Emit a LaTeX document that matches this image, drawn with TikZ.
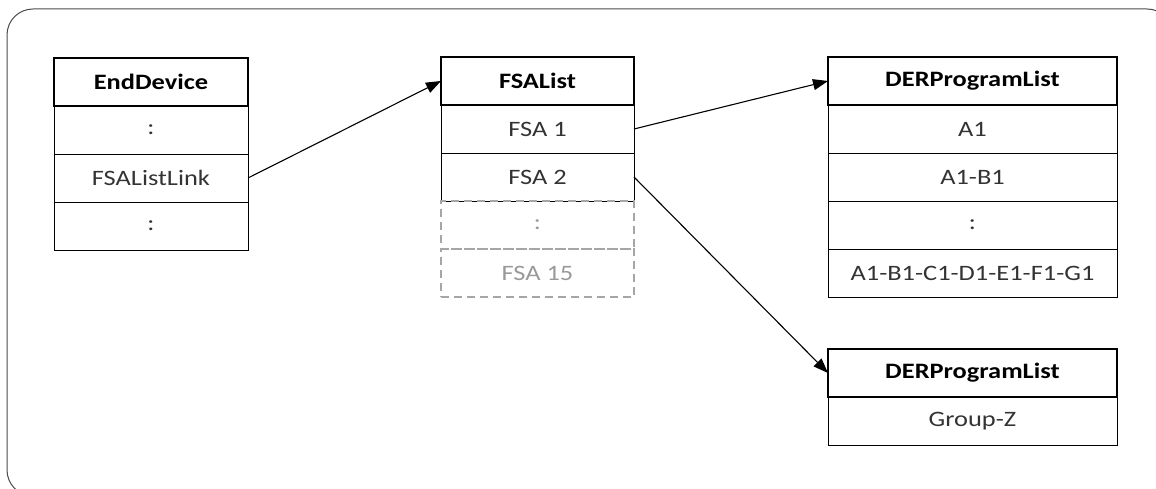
\documentclass[tikz,border=0pt]{standalone}
\usepackage{fontspec}
\setmainfont{Carlito}[FakeStretch=1.2]
\usepackage{xcolor}
\usepackage{tikz}
\usetikzlibrary{positioning,arrows.meta}

\begin{document}
\begin{tikzpicture}[x=1pt,y=-1pt,
						% Ô tiêu đề (đậm)
						hdr/.style={
							draw=black, line width=1.6pt,
							minimum width=#1, minimum height=48pt,
							inner sep=0pt, outer sep=0pt,
							font=\fontsize{22}{25}\selectfont\bfseries
						},
						% Ô thường
						cell/.style={
							draw=black, line width=0.9pt,
							minimum width=#1, minimum height=48pt,
							inner sep=0pt, outer sep=0pt,
							text=black!80, font=\fontsize{22}{25}\selectfont
						},
						% Ô nét đứt (mờ)
						ghost/.style={
							draw=black!35, line width=1.1pt, dash pattern=on 8pt off 5pt,
							minimum width=#1, minimum height=48pt,
							inner sep=0pt, outer sep=0pt,
							text=black!40, font=\fontsize{22}{25}\selectfont
						},
						% Mũi tên liên kết
						link/.style={
							-{Triangle[length=15pt,width=11pt]}, line width=1.1pt
						}
						]
						
						\clip (0,0) rectangle (1156,489);
						
						% Khung ngoài
						\draw[black!70, line width=1pt, rounded corners=26pt] (7,9) rectangle (1173,496);
						
						% --- EndDevice ---
						\node[hdr=194pt] (ed) at (151,82) {EndDevice};
						\node[cell=194pt, below=0pt of ed] (ed1) {:};
						\node[cell=194pt, below=0pt of ed1] (edlink) {FSAListLink};
						\node[cell=194pt, below=0pt of edlink] (ed3) {:};
						
						% --- FSAList ---
						\node[hdr=193pt] (fsa) at (537.5,81) {FSAList};
						\node[cell=193pt, below=0pt of fsa] (fsa1) {FSA 1};
						\node[cell=193pt, below=0pt of fsa1] (fsa2) {FSA 2};
						\node[ghost=193pt, below=0pt of fsa2] (fsadots) {:};
						\node[ghost=193pt, below=0pt of fsadots] (fsa15) {FSA 15};
						
						% --- DERProgramList (FSA 1) ---
						\node[hdr=289pt] (der) at (972.5,81) {DERProgramList};
						\node[cell=289pt, below=0pt of der] (dera) {A1};
						\node[cell=289pt, below=0pt of dera] (derab) {A1-B1};
						\node[cell=289pt, below=0pt of derab] (derdots) {:};
						\node[cell=289pt, below=0pt of derdots] (derag) {A1-B1-C1-D1-E1-F1-G1};
						
						% --- DERProgramList (FSA 2) ---
						\node[hdr=289pt] (derz) at (972.5,373) {DERProgramList};
						\node[cell=289pt, below=0pt of derz] (derz1) {Group-Z};
						
						% Mũi tên
						\draw[link] (edlink.east) -- (fsa.west);
						\draw[link] (fsa1.east) -- (der.west);
						\draw[link] (fsa2.east) -- (derz.west);
						
					\end{tikzpicture}
\end{document}
